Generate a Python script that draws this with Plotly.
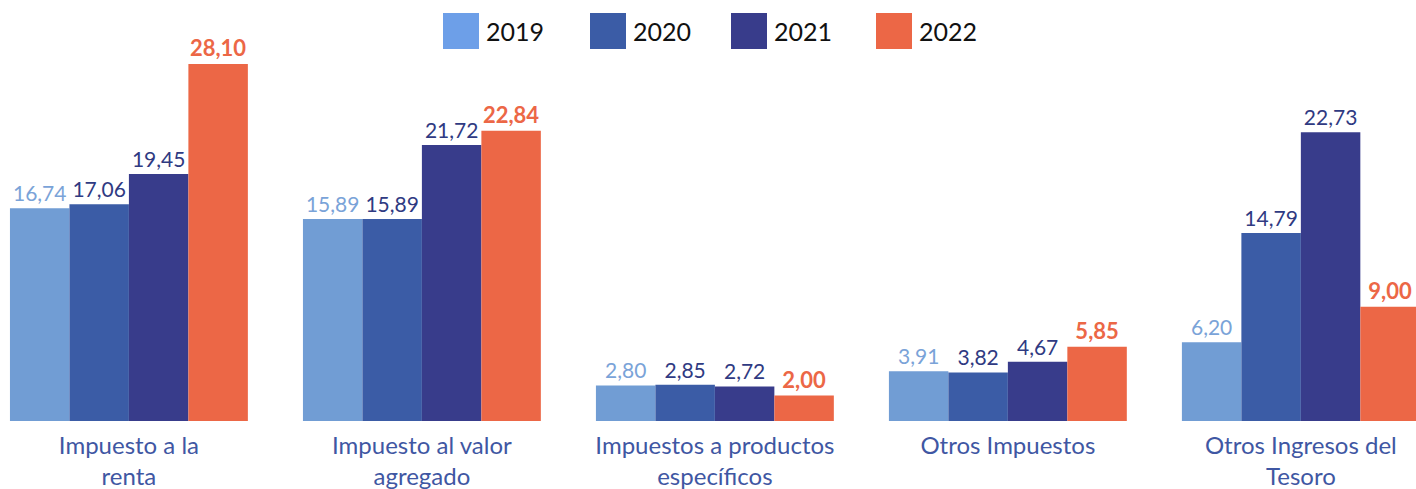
import plotly.graph_objects as go

categories = ["Impuesto a la<br>renta", "Impuesto al valor<br>agregado",
              "Impuestos a productos<br>específicos", "Otros Impuestos",
              "Otros Ingresos del<br>Tesoro"]
years = ["2019", "2020", "2021", "2022"]
v2019 = [16.74, 15.89, 2.80, 3.91, 6.20]
v2020 = [17.06, 15.89, 2.85, 3.82, 14.79]
v2021 = [19.45, 21.72, 2.72, 4.67, 22.73]
v2022 = [28.10, 22.84, 2.00, 5.85, 9.00]
series = [v2019, v2020, v2021, v2022]

bar_colors = ["#719DD4", "#3B5CA6", "#383C8B", "#EC6746"]
legend_colors = ["#6D9FE8", "#3B5CA6", "#383C8B", "#EC6746"]
label_colors = ["#7AA3D8", "#2F3A82", "#2F3A82", "#EC6746"]
FONT = "Lato, 'Open Sans', sans-serif"

W, H = 1416, 489
PLOT_BOTTOM = 421

fig = go.Figure()
for i, (yr, vals) in enumerate(zip(years, series)):
    txt = [f"{v:.2f}".replace(".", ",") for v in vals]
    size = 21
    if yr == "2022":
        txt = [f"<b>{t}</b>" for t in txt]
        size = 22
    fig.add_trace(go.Bar(
        x=list(range(len(categories))), y=vals, name=yr,
        marker=dict(color=bar_colors[i], line=dict(width=0)),
        text=txt, textposition="outside", textangle=0,
        constraintext="none", cliponaxis=False,
        textfont=dict(family=FONT, size=size, color=label_colors[i]),
        showlegend=False,
    ))

# custom legend with large swatches (pixel positions)
sw_x = [443, 590, 731, 876]
for i, yr in enumerate(years):
    x0 = sw_x[i]
    fig.add_shape(type="rect", xref="paper", yref="paper",
                  x0=x0 / W, x1=(x0 + 36) / W,
                  y0=(PLOT_BOTTOM - 49) / PLOT_BOTTOM,
                  y1=(PLOT_BOTTOM - 13) / PLOT_BOTTOM,
                  fillcolor=legend_colors[i], line=dict(width=0))
    fig.add_annotation(xref="paper", yref="paper", x=(x0 + 41) / W,
                       y=(PLOT_BOTTOM - 31) / PLOT_BOTTOM, text=yr, showarrow=False,
                       xanchor="left", yanchor="middle",
                       font=dict(family=FONT, size=25, color="#111111"))

fig.update_layout(
    width=W, height=H,
    margin=dict(l=0, r=0, t=0, b=H - PLOT_BOTTOM),
    barmode="group", bargap=0.188, bargroupgap=0,
    plot_bgcolor="white", paper_bgcolor="white",
    xaxis=dict(range=[-0.44, 4.393], tickmode="array",
               tickvals=list(range(len(categories))), ticktext=categories,
               showgrid=False, zeroline=False, showline=False, ticks="",
               ticklabelstandoff=8,
               tickfont=dict(family=FONT, size=24, color="#3F57A3")),
    yaxis=dict(range=[0, 28.10 * 421 / 357], visible=False, showgrid=False, zeroline=False),
)

fig.write_html("out.html", config={"displayModeBar": False},
               post_script="document.body.style.margin='0';document.body.style.overflow='hidden';")
